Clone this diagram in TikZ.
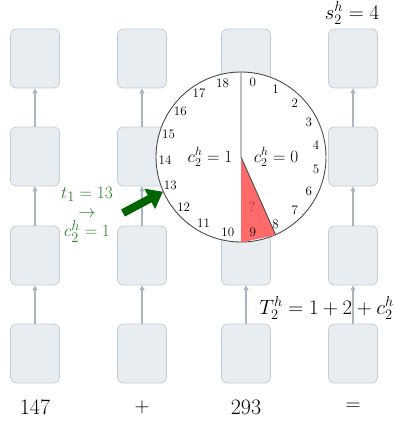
\documentclass[tikz,border=0pt]{standalone}
\usetikzlibrary{arrows.meta,positioning}
\usepackage{amsmath,amssymb}
\definecolor{cellfill}{HTML}{E8EDF1}
\definecolor{cellline}{HTML}{C3CDD6}
\definecolor{linkgray}{HTML}{A9B5C0}
\definecolor{wedgered}{HTML}{FF6B6B}
\definecolor{qred}{HTML}{B03030}
\definecolor{carrygreen}{HTML}{2A7F2A}
\definecolor{pushgreen}{HTML}{006400}

\begin{document}
\begin{tikzpicture}[x=1pt,y=-1pt,
    cell/.style={draw=cellline,fill=cellfill,rounded corners=6pt,line width=0.8pt,
      minimum width=49pt,minimum height=59pt,inner sep=0pt},
    link/.style={draw=linkgray,line width=1.2pt,-{Triangle[width=5pt,length=5pt]}},
    tick/.style={font=\fontsize{13}{13}\selectfont,inner sep=0pt},
    big/.style={font=\fontsize{22}{22}\selectfont},
    note/.style={font=\fontsize{21}{21}\selectfont}]
      \useasboundingbox (0,0) rectangle (394,425);
      % the four columns of cells
      \foreach \col/\x in {1/35,2/142,3/246,4/353}
        \foreach \row/\y in {1/58.5,2/156.5,3/255.5,4/353.5}
          \node[cell] (c\col\row) at (\x,\y) {};
      \foreach \col in {1,...,4}
        \foreach \row/\up in {2/1,3/2,4/3}
          \draw[link] (c\col\row) -- (c\col\up);
      \node[big] (in1) at (35,407) {147};
      \node[big] (op1) at (142,407) {$+$};
      \node[big] (in2) at (246,407) {293};
      \node[big] (op2) at (353,407) {$=$};
      \node[note,inner sep=0pt] (sum) at (352,13) {$s_2^h=4$};
      \node[note,font=\fontsize{20}{20}\selectfont,anchor=east,inner sep=0pt] (tot) at (394,308) {$T_2^h=1+2+c_2^h$};
      % the dial
      \node[circle,draw=black!70,fill=white,line width=0.9pt,minimum size=170pt,inner sep=0pt] (dial) at (241,157) {};
      \fill[wedgered] (dial.center) -- (dial.south) -- (dial.-66) -- cycle;
      \draw[black!70,line width=0.9pt] (dial.-66) -- (dial.center) -- (dial.north);
      \foreach \k in {0,...,9}
        \node[tick] (t\k) at ([shift={({9+18*\k-90}:76)}]dial.center) {\k};
      \foreach \k in {10,...,18}
        \node[tick] (t\k) at ([shift={({190+19.5*(\k-10)-90}:76)}]dial.center) {\k};
      \node[font=\fontsize{18}{18}\selectfont] (left) at (210,157) {$c_2^h=1$};
      \node[font=\fontsize{18}{18}\selectfont] (right) at (276,157) {$c_2^h=0$};
      \node[tick,font=\fontsize{14}{14}\selectfont,text=qred] (q) at (252,207) {?};
      % carry coming in
      \node[note,text=carrygreen,align=center,inner sep=0pt,
        font=\fontsize{19}{19}\selectfont] (carry) at (87,215) {$t_1=13$\\$\to$\\$c_2^h=1$};
      \coordinate (gtail) at (123,213);
      \draw[pushgreen,line width=8pt,-{Triangle[width=22pt,length=15pt]}] (gtail) -- (dial.204);
\end{tikzpicture}
\end{document}
